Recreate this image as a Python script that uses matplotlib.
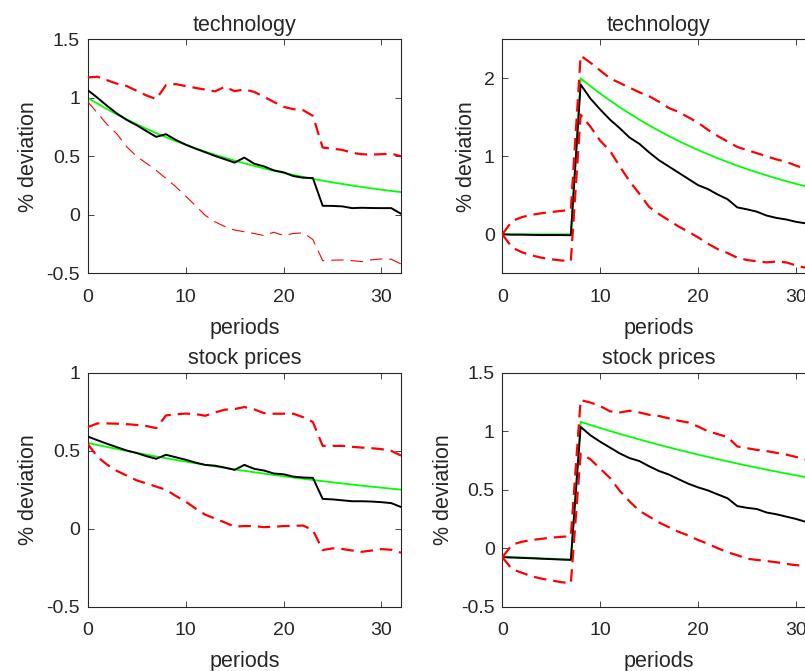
import numpy as np
import matplotlib
matplotlib.use("Agg")
import matplotlib.pyplot as plt

plt.rcParams["font.family"] = ["Liberation Sans", "DejaVu Sans"]
plt.rcParams["lines.scale_dashes"] = False

periods = np.arange(33)

# ---- technology shock, left column ----
tech_l_median = [1.066, 1.00, 0.93, 0.865, 0.81, 0.766, 0.715, 0.666, 0.689, 0.64,
                 0.60, 0.566, 0.535, 0.503, 0.475, 0.446, 0.489, 0.437, 0.414, 0.38,
                 0.363, 0.331, 0.317, 0.314, 0.077, 0.076, 0.072, 0.057, 0.06, 0.058,
                 0.057, 0.057, 0.009]
tech_l_true = [1.0, 0.95, 0.9025, 0.857, 0.815, 0.774, 0.735, 0.698, 0.663, 0.630,
               0.599, 0.569, 0.540, 0.513, 0.488, 0.463, 0.440, 0.418, 0.397, 0.377,
               0.358, 0.341, 0.324, 0.307, 0.292, 0.277, 0.264, 0.250, 0.238, 0.226,
               0.215, 0.204, 0.194]
tech_l_upper = [1.174, 1.18, 1.15, 1.12, 1.10, 1.06, 1.02, 0.989, 1.109, 1.117,
                1.10, 1.085, 1.07, 1.055, 1.094, 1.057, 1.071, 1.051, 1.009, 0.965,
                0.923, 0.903, 0.894, 0.846, 0.575, 0.565, 0.555, 0.53, 0.518, 0.514,
                0.518, 0.523, 0.50]
tech_l_lower = [0.966, 0.87, 0.77, 0.69, 0.58, 0.50, 0.44, 0.38, 0.31, 0.24,
                0.16, 0.08, -0.005, -0.06, -0.10, -0.13, -0.145, -0.16, -0.177, -0.149,
                -0.177, -0.16, -0.154, -0.211, -0.392, -0.388, -0.386, -0.392, -0.40, -0.385,
                -0.377, -0.38, -0.42]

# ---- technology shock, right column ----
tech_r_median = [0.0, -0.005, -0.005, -0.008, -0.01, -0.01, -0.01, -0.012, 1.92, 1.74,
                 1.60, 1.47, 1.36, 1.24, 1.16, 1.05, 0.95, 0.87, 0.79, 0.71,
                 0.63, 0.58, 0.51, 0.45, 0.345, 0.32, 0.29, 0.24, 0.21, 0.19,
                 0.16, 0.14, 0.11]
tech_r_true = [0.0, 0.0, 0.0, 0.0, 0.0, 0.0, 0.0, 0.0, 2.0, 1.9,
               1.805, 1.715, 1.629, 1.548, 1.470, 1.397, 1.327, 1.260, 1.197, 1.138,
               1.081, 1.027, 0.975, 0.927, 0.880, 0.836, 0.795, 0.755, 0.717, 0.681,
               0.647, 0.615, 0.584]
tech_r_upper = [0.0, 0.17, 0.22, 0.25, 0.27, 0.285, 0.30, 0.313, 2.29, 2.20,
                2.10, 2.00, 1.94, 1.88, 1.82, 1.77, 1.70, 1.62, 1.57, 1.50,
                1.43, 1.34, 1.26, 1.19, 1.12, 1.08, 1.04, 1.00, 0.96, 0.93,
                0.88, 0.84, 0.82]
tech_r_lower = [0.0, -0.17, -0.23, -0.27, -0.30, -0.32, -0.335, -0.343, 1.533, 1.38,
                1.20, 1.07, 0.87, 0.68, 0.52, 0.35, 0.26, 0.18, 0.10, 0.034,
                -0.04, -0.12, -0.19, -0.24, -0.30, -0.33, -0.345, -0.36, -0.35, -0.36,
                -0.40, -0.43, -0.44]

# ---- stock prices, left column ----
stock_l_median = [0.591, 0.567, 0.544, 0.522, 0.501, 0.485, 0.465, 0.448, 0.474, 0.458,
                  0.442, 0.424, 0.409, 0.404, 0.392, 0.377, 0.409, 0.384, 0.373, 0.354,
                  0.349, 0.334, 0.328, 0.326, 0.191, 0.188, 0.182, 0.176, 0.176, 0.174,
                  0.170, 0.164, 0.139]
stock_l_true = [0.55, 0.5366, 0.5236, 0.5109, 0.4985, 0.4864, 0.4745, 0.4630, 0.4518, 0.4408,
                0.4301, 0.4196, 0.4094, 0.3995, 0.3898, 0.3803, 0.3711, 0.3620, 0.3532, 0.3447,
                0.3363, 0.3281, 0.3201, 0.3124, 0.3048, 0.2974, 0.2901, 0.2831, 0.2762, 0.2695,
                0.2630, 0.2566, 0.2503]
stock_l_upper = [0.651, 0.675, 0.675, 0.673, 0.67, 0.665, 0.658, 0.645, 0.726, 0.733,
                 0.738, 0.735, 0.724, 0.745, 0.763, 0.767, 0.78, 0.765, 0.741, 0.737,
                 0.737, 0.737, 0.715, 0.684, 0.531, 0.531, 0.531, 0.525, 0.52, 0.516,
                 0.51, 0.499, 0.469]
stock_l_lower = [0.544, 0.46, 0.41, 0.37, 0.34, 0.31, 0.29, 0.27, 0.249, 0.21,
                 0.174, 0.13, 0.09, 0.065, 0.04, 0.013, 0.017, 0.017, 0.01, 0.012,
                 0.017, 0.019, 0.02, -0.009, -0.137, -0.126, -0.13, -0.14, -0.148, -0.14,
                 -0.131, -0.135, -0.154]

# ---- stock prices, right column ----
stock_r_median = [-0.077, -0.08, -0.083, -0.086, -0.09, -0.093, -0.097, -0.10, 1.037, 0.965,
                  0.91, 0.86, 0.81, 0.77, 0.745, 0.70, 0.66, 0.63, 0.59, 0.551,
                  0.52, 0.494, 0.46, 0.427, 0.36, 0.345, 0.335, 0.305, 0.29, 0.27,
                  0.25, 0.225, 0.21]
stock_r_true = [-0.071, -0.075, -0.079, -0.083, -0.087, -0.09, -0.094, -0.097, 1.08, 1.0533,
                1.0273, 1.0019, 0.9772, 0.9530, 0.9295, 0.9065, 0.8841, 0.8623, 0.8410, 0.8202,
                0.7999, 0.7802, 0.7609, 0.7421, 0.7237, 0.7058, 0.6884, 0.6714, 0.6548, 0.6386,
                0.6228, 0.6074, 0.5924]
stock_r_upper = [-0.077, 0.03, 0.055, 0.07, 0.08, 0.09, 0.097, 0.103, 1.266, 1.245,
                 1.215, 1.17, 1.16, 1.175, 1.16, 1.14, 1.13, 1.11, 1.09, 1.074,
                 1.04, 1.00, 0.975, 0.95, 0.87, 0.855, 0.84, 0.83, 0.815, 0.80,
                 0.78, 0.76, 0.74]
stock_r_lower = [-0.077, -0.18, -0.21, -0.24, -0.26, -0.275, -0.29, -0.30, 0.809, 0.76,
                 0.68, 0.60, 0.49, 0.40, 0.32, 0.27, 0.22, 0.18, 0.14, 0.109,
                 0.07, 0.037, 0.0, -0.034, -0.06, -0.09, -0.10, -0.11, -0.12, -0.134,
                 -0.145, -0.15, -0.155]

titles = ["technology", "technology", "stock prices", "stock prices"]
ylims = [(-0.5, 1.5), (-0.5, 2.5), (-0.5, 1.0), (-0.5, 1.5)]
yticks = [[-0.5, 0, 0.5, 1, 1.5], [0, 1, 2], [-0.5, 0, 0.5, 1], [-0.5, 0, 0.5, 1, 1.5]]
xticks = [0, 10, 20, 30]

panels = [
    (tech_l_true, tech_l_median, tech_l_upper, tech_l_lower),
    (tech_r_true, tech_r_median, tech_r_upper, tech_r_lower),
    (stock_l_true, stock_l_median, stock_l_upper, stock_l_lower),
    (stock_r_true, stock_r_median, stock_r_upper, stock_r_lower),
]

W, H = 805, 671
fig = plt.figure(figsize=(W / 100, H / 100), dpi=100)
fig.patch.set_facecolor("white")

ink = "#262626"
ax_w, ax_h = 313.3, 234.0
lefts = [87.7, 502.3]
tops = [39.3, 372.7]

for i, (true, med, up, lo) in enumerate(panels):
    row, col = divmod(i, 2)
    l = lefts[col]
    t = tops[row]
    ax = fig.add_axes([l / W, (H - t - ax_h) / H, ax_w / W, ax_h / H])
    ax.plot(periods, true, color="#00ff00", lw=1.3, zorder=2)
    ax.plot(periods, med, color="black", lw=1.4, zorder=3)
    ax.plot(periods, up, color="#ff0000", lw=1.6, ls=(0, (9, 5)), zorder=4)
    lo_lw = 0.8 if i == 0 else 1.6
    ax.plot(periods, lo, color="#ff0000", lw=lo_lw, ls=(0, (9, 5)), zorder=4)

    ax.set_xlim(0, 32)
    ax.set_ylim(*ylims[i])
    ax.set_xticks(xticks)
    ax.set_yticks(yticks[i])
    ax.set_yticklabels([f"{v:g}" for v in yticks[i]])
    ax.tick_params(axis="both", direction="in", top=True, right=True, length=4,
                   width=0.6, color=ink, labelcolor=ink, labelsize=14)
    ax.tick_params(axis="x", pad=11)
    ax.tick_params(axis="y", pad=5.5)
    for s in ax.spines.values():
        s.set_color(ink)
        s.set_linewidth(0.8)
    ax.set_title(titles[i], fontsize=15.5, color=ink, pad=6)
    ax.set_xlabel("periods", fontsize=15.5, color=ink, labelpad=9)
    ax.set_ylabel("% deviation", fontsize=15.5, color=ink, labelpad=5)

fig.savefig("out.png", dpi=100, facecolor="white")
